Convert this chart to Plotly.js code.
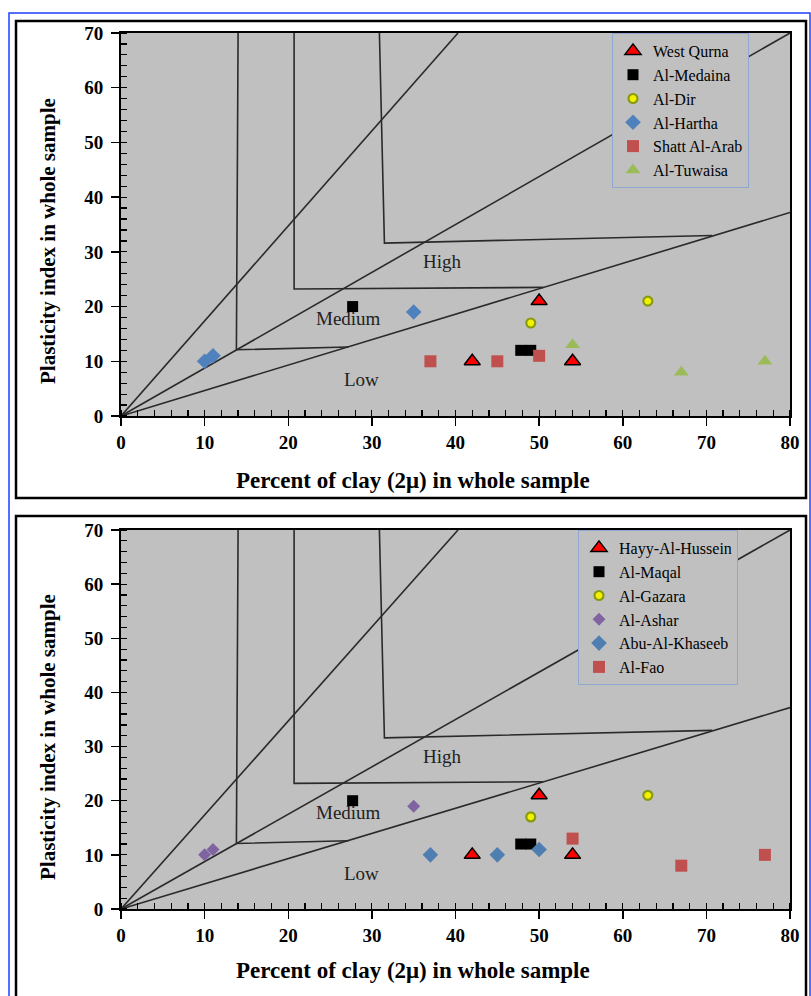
<!DOCTYPE html>
<html>
<head>
<meta charset="utf-8">
<script src="https://cdn.plot.ly/plotly-3.0.1.min.js"></script>
<style>html,body{margin:0;padding:0;background:#fff;}#chart{width:811px;height:996px;}</style>
</head>
<body>
<div id="chart"></div>
<script>
// ---- Data ----
// Top panel series
const westQurnaX = [42, 50, 54];
const westQurnaY = [10, 21, 10];
const alMedainaX = [27.7, 47.8, 49];
const alMedainaY = [20, 12, 12];
const alDirX = [49, 63];
const alDirY = [17, 21];
const alHarthaX = [10, 11, 35];
const alHarthaY = [10, 11, 19];
const shattAlArabX = [37, 45, 50];
const shattAlArabY = [10, 10, 11];
const alTuwaisaX = [54, 67, 77];
const alTuwaisaY = [13, 8, 10];

// Bottom panel series
const hayyAlHusseinX = [42, 50, 54];
const hayyAlHusseinY = [10, 21, 10];
const alMaqalX = [27.7, 47.8, 49];
const alMaqalY = [20, 12, 12];
const alGazaraX = [49, 63];
const alGazaraY = [17, 21];
const alAsharX = [10, 11, 35];
const alAsharY = [10, 11, 19];
const abuAlKhaseebX = [37, 45, 50];
const abuAlKhaseebY = [10, 10, 11];
const alFaoX = [54, 67, 77];
const alFaoY = [13, 8, 10];

// Zone boundary lines (swelling potential chart)
const steepLineX = [0, 40.3];
const steepLineY = [0, 70];
const midLineX = [0, 80];
const midLineY = [0, 70];
const lowLineX = [0, 80];
const lowLineY = [0, 37.2];
const step1X = [14.0, 13.8, 27.2];
const step1Y = [70, 12.1, 12.6];
const step2X = [20.7, 20.7, 50.5];
const step2Y = [70, 23.2, 23.5];
const step3X = [30.9, 31.5, 70.7];
const step3Y = [70, 31.6, 33.0];

// Zone labels
const zoneNames = ["High", "Medium", "Low"];
const zoneX = [38.4, 27.2, 28.8];
const zoneY = [28.2, 17.9, 6.6];

const tickVals = [0, 10, 20, 30, 40, 50, 60, 70, 80];
const xTitleText = "Percent of clay (2\u03bc) in whole sample";
const yTitleText = "Plasticity index in whole sample";

// ---- Styles ----
const SERIF = "Liberation Serif, Times New Roman, serif";
const lineStyle = {color: "#2a2a2a", width: 1.6};

function boundaryTraces(xa, ya) {
  const sets = [[steepLineX, steepLineY], [midLineX, midLineY], [lowLineX, lowLineY],
                [step1X, step1Y], [step2X, step2Y], [step3X, step3Y]];
  return sets.map(s => ({
    x: s[0], y: s[1], xaxis: xa, yaxis: ya, type: "scatter", mode: "lines",
    line: lineStyle, showlegend: false, hoverinfo: "skip"
  }));
}

function pts(name, x, y, marker, xa, ya, legend) {
  return {name: name, x: x, y: y, xaxis: xa, yaxis: ya, type: "scatter", mode: "markers",
          marker: marker, legend: legend};
}

const redTri = {symbol: "triangle-up", size: 14, color: "#FF0000", line: {color: "#000", width: 1.5}};
const blackSq = {symbol: "square", size: 11, color: "#000000"};
const yellowCirc = {symbol: "circle", size: 9, color: "#F2F200", line: {color: "#8A9A10", width: 2.2}};
const blueDia = {symbol: "diamond", size: 12, color: "#4F81BD"};
const redSq = {symbol: "square", size: 12, color: "#C0504D"};
const greenTri = {symbol: "triangle-up", size: 13, color: "#9BBB59"};
const purpleDia = {symbol: "diamond", size: 10, color: "#8064A2"};
const steelDia = {symbol: "diamond", size: 12, color: "#4F7FB0"};

const traces = []
  .concat(boundaryTraces("x", "y"))
  .concat(boundaryTraces("x2", "y2"))
  .concat([
    pts("West Qurna", westQurnaX, westQurnaY, redTri, "x", "y", "legend"),
    pts("Al-Medaina", alMedainaX, alMedainaY, blackSq, "x", "y", "legend"),
    pts("Al-Dir", alDirX, alDirY, yellowCirc, "x", "y", "legend"),
    pts("Al-Hartha", alHarthaX, alHarthaY, blueDia, "x", "y", "legend"),
    pts("Shatt Al-Arab", shattAlArabX, shattAlArabY, redSq, "x", "y", "legend"),
    pts("Al-Tuwaisa", alTuwaisaX, alTuwaisaY, greenTri, "x", "y", "legend"),
    pts("Hayy-Al-Hussein", hayyAlHusseinX, hayyAlHusseinY, redTri, "x2", "y2", "legend2"),
    pts("Al-Maqal", alMaqalX, alMaqalY, blackSq, "x2", "y2", "legend2"),
    pts("Al-Gazara", alGazaraX, alGazaraY, yellowCirc, "x2", "y2", "legend2"),
    pts("Al-Ashar", alAsharX, alAsharY, purpleDia, "x2", "y2", "legend2"),
    pts("Abu-Al-Khaseeb", abuAlKhaseebX, abuAlKhaseebY, steelDia, "x2", "y2", "legend2"),
    pts("Al-Fao", alFaoX, alFaoY, redSq, "x2", "y2", "legend2")
  ]);

const W = 811, H = 996;
const xDom = [121 / W, 790 / W];
const yDomTop = [(H - 416) / H, (H - 33) / H];
const yDomBot = [(H - 909) / H, (H - 530) / H];

const tickFont = {family: SERIF, size: 19, color: "#000", weight: "bold"};
const xTitleFont = {family: SERIF, size: 23, color: "#000", weight: "bold"};
const yTitleFont = {family: SERIF, size: 21, color: "#000", weight: "bold"};

function xAxis(domain, anchor) {
  return {
    domain: domain, anchor: anchor, range: [0, 80], tickvals: tickVals,
    ticks: "outside", ticklen: 8, tickwidth: 1.5, tickcolor: "#000",
    minor: {dtick: 2, ticks: "inside", ticklen: 6, tickwidth: 1.2, tickcolor: "#000", showgrid: false},
    showline: true, linecolor: "#000", linewidth: 2, mirror: true,
    showgrid: false, zeroline: false, tickfont: tickFont
  };
}
function yAxis(domain, anchor) {
  return {
    domain: domain, anchor: anchor, range: [0, 70], tickvals: tickVals.slice(0, 8),
    ticks: "outside", ticklen: 8, tickwidth: 1.5, tickcolor: "#000",
    minor: {dtick: 2, ticks: "inside", ticklen: 6, tickwidth: 1.2, tickcolor: "#000", showgrid: false},
    showline: true, linecolor: "#000", linewidth: 2, mirror: true,
    showgrid: false, zeroline: false, tickfont: tickFont, ticklabelstandoff: 4
  };
}

const annotations = [];
zoneNames.forEach((t, i) => {
  ["", "2"].forEach(s => {
    annotations.push({text: t, x: zoneX[i], y: zoneY[i], xref: "x" + s, yref: "y" + s,
      showarrow: false, font: {family: SERIF, size: 19, color: "#222"}});
  });
});
// Axis titles (placed as in the reference, slightly off-centre)
[[480, 241], [970, 737]].forEach(p => {
  annotations.push({text: xTitleText, xref: "paper", yref: "paper", x: 413 / W, y: (H - p[0]) / H,
    xanchor: "center", yanchor: "middle", showarrow: false, font: xTitleFont});
  annotations.push({text: yTitleText, xref: "paper", yref: "paper", x: 48 / W, y: (H - p[1]) / H,
    xanchor: "center", yanchor: "middle", textangle: -90, showarrow: false, font: yTitleFont});
});

const legendCommon = {
  bgcolor: "#C0C0C0", bordercolor: "#8FA8D0", borderwidth: 1,
  font: {family: SERIF, size: 16, color: "#000"}, itemwidth: 30,
  xanchor: "left", yanchor: "top", tracegroupgap: 0
};

const layout = {
  width: W, height: H,
  margin: {l: 0, r: 0, t: 0, b: 0},
  paper_bgcolor: "#FFFFFF", plot_bgcolor: "#C0C0C0",
  xaxis: xAxis(xDom, "y"), yaxis: yAxis(yDomTop, "x"),
  xaxis2: xAxis(xDom, "y2"), yaxis2: yAxis(yDomBot, "x2"),
  legend: Object.assign({x: 612 / W, y: (H - 33) / H}, legendCommon),
  legend2: Object.assign({x: 578 / W, y: (H - 530) / H}, legendCommon),
  annotations: annotations,
  shapes: [
    {type: "rect", xref: "paper", yref: "paper", x0: 9 / W, x1: 810 / W, y0: -0.01, y1: (H - 13) / H,
     line: {color: "#1F3FFF", width: 1.5}, layer: "below"},
    {type: "rect", xref: "paper", yref: "paper", x0: 16 / W, x1: 806 / W, y0: (H - 498) / H, y1: (H - 21) / H,
     line: {color: "#000", width: 2.5}, layer: "below"},
    {type: "rect", xref: "paper", yref: "paper", x0: 16 / W, x1: 806 / W, y0: -0.01, y1: (H - 516) / H,
     line: {color: "#000", width: 2.5}, layer: "below"}
  ],
  showlegend: true
};

Plotly.newPlot("chart", traces, layout, {displayModeBar: false, staticPlot: true});
</script>
</body>
</html>
